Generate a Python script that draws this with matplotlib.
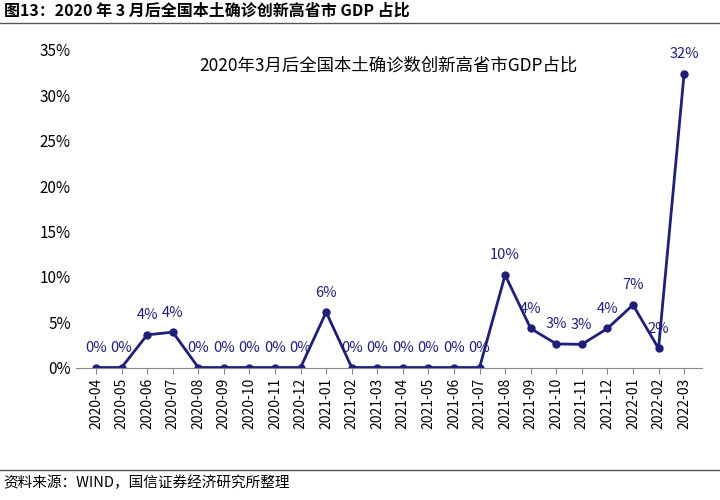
import matplotlib.pyplot as plt
from matplotlib.lines import Line2D

plt.rcParams['font.family'] = ['Noto Sans CJK SC']

months = ['2020-04', '2020-05', '2020-06', '2020-07', '2020-08', '2020-09', '2020-10',
          '2020-11', '2020-12', '2021-01', '2021-02', '2021-03', '2021-04', '2021-05',
          '2021-06', '2021-07', '2021-08', '2021-09', '2021-10', '2021-11', '2021-12',
          '2022-01', '2022-02', '2022-03']
gdp_share = [0, 0, 3.6, 3.9, 0, 0, 0, 0, 0, 6.1, 0, 0, 0, 0, 0, 0,
             10.2, 4.3, 2.6, 2.55, 4.3, 6.9, 2.1, 32.4]

color = '#1f1f7a'
fig = plt.figure(figsize=(7.2, 5.0), dpi=100)
ax = fig.add_axes([0.105, 0.265, 0.87, 0.635])

x = range(len(months))
ax.plot(x, gdp_share, color=color, lw=2, marker='o', ms=5)
for i, v in enumerate(gdp_share):
    ax.annotate(f'{v:.0f}%', (i, v), xytext=(0, 9), textcoords='offset points',
                ha='center', va='bottom', fontsize=10.5, color=color)

ax.set_xlim(-0.8, len(months) - 0.3)
ax.set_ylim(0, 35)
ax.set_yticks(range(0, 36, 5))
ax.set_yticklabels([f'{t}%' for t in range(0, 36, 5)], fontsize=11)
ax.set_xticks(list(x))
ax.set_xticklabels(months, rotation=90, fontsize=10)
for s in ['top', 'right', 'left']:
    ax.spines[s].set_visible(False)
ax.spines['bottom'].set_color('#888888')
ax.tick_params(axis='y', length=0)
ax.tick_params(axis='x', length=4, color='#888888')
ax.set_title('2020年3月后全国本土确诊数创新高省市GDP占比', fontsize=12.5, pad=-8, y=0.97)

fig.text(0.005, 0.978, '图13：2020 年 3 月后全国本土确诊创新高省市 GDP 占比',
         fontsize=11.5, fontweight='bold', va='center')
fig.add_artist(Line2D([0, 1], [0.955, 0.955], color='#555555', lw=1))
fig.add_artist(Line2D([0, 1], [0.06, 0.06], color='#555555', lw=1))
fig.text(0.005, 0.035, '资料来源：WIND，国信证券经济研究所整理', fontsize=10.5, va='center')

fig.savefig('out.png', dpi=100)
